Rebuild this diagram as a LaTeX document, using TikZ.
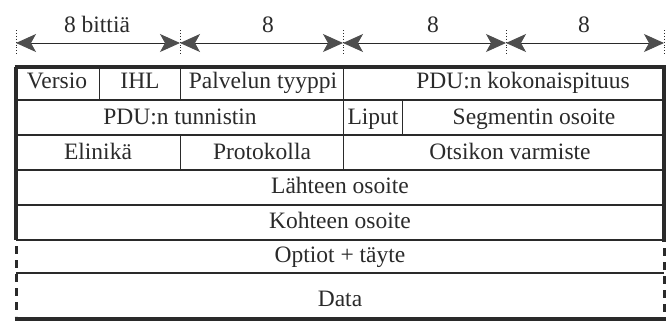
\documentclass[tikz,border=0pt]{standalone}
\usepackage{fontspec}
\setmainfont{Liberation Serif}
\usetikzlibrary{arrows.meta}
\definecolor{ink}{HTML}{2A2A2A}
\definecolor{tipgray}{HTML}{4E4E4E}
\begin{document}
\begin{tikzpicture}[x=1pt,y=-1pt,
  lbl/.style={font=\fontsize{23.5}{28}\selectfont, text=ink, inner sep=0pt, anchor=base},
  frame/.style={draw=ink, line width=3.4pt},
  rowline/.style={draw=ink, line width=1.6pt},
  colline/.style={draw=ink, line width=0.8pt},
  sidedash/.style={draw=ink, line width=3pt, dash pattern=on 8pt off 6pt},
  tick/.style={draw=ink, line width=0.9pt, dotted},
  span/.style={draw=ink, line width=1pt,
    {Stealth[length=20pt,width=18pt,inset=5pt,color=tipgray,fill=tipgray]}-{Stealth[length=20pt,width=18pt,inset=5pt,color=tipgray,fill=tipgray]}}]
\useasboundingbox (0,0) rectangle (671,325);
% bit ticks
\foreach \n/\x in {0/16,1/180,2/343,3/506,4/664}{
  \coordinate (t\n) at (\x,43);
  \draw[tick] (\x,30) -- (\x,56);
}
\draw[span] (t0) -- (t1);
\draw[span] (t1) -- (t2);
\draw[span] (t2) -- (t3);
\draw[span] (t3) -- (t4);
\node[lbl] (b1) at (97,32) {8 bittiä};
\node[lbl] (b2) at (268,32) {8};
\node[lbl] (b3) at (433,32) {8};
\node[lbl] (b4) at (584,32) {8};
% table frame
\draw[frame] (14.5,67) -- (665.5,67);
\draw[frame] (14.5,319) -- (665.5,319);
\draw[frame] (16,67) -- (16,240);
\draw[frame] (664,67) -- (664,242);
\draw[sidedash] (16,246) -- (16,316);
\draw[sidedash] (664,248) -- (664,316);
% row lines
\foreach \y in {100,135,170,205,240,273}{
  \draw[rowline] (16,\y) -- (664,\y);
}
% column lines
\draw[colline] (99,67) -- (99,100);
\draw[colline] (180,67) -- (180,100);
\draw[colline] (343,67) -- (343,100);
\draw[colline] (343,100) -- (343,135);
\draw[colline] (402,100) -- (402,135);
\draw[colline] (180,135) -- (180,170);
\draw[colline] (343,135) -- (343,170);
% field texts
\node[lbl] (versio) at (57,88) {Versio};
\node[lbl] (ihl) at (140,88) {IHL};
\node[lbl] (palv) at (263,88) {Palvelun tyyppi};
\node[lbl] (koko) at (523,88) {PDU:n kokonaispituus};
\node[lbl] (tunn) at (180,124) {PDU:n tunnistin};
\node[lbl] (liput) at (373,124) {Liput};
\node[lbl] (segm) at (534,124) {Segmentin osoite};
\node[lbl] (elin) at (98,159) {Elinikä};
\node[lbl] (prot) at (262,159) {Protokolla};
\node[lbl] (otsi) at (510,159) {Otsikon varmiste};
\node[lbl] (lahde) at (340,193) {Lähteen osoite};
\node[lbl] (kohde) at (340,228) {Kohteen osoite};
\node[lbl] (opt) at (340,262) {Optiot + täyte};
\node[lbl] (data) at (340,306) {Data};
\end{tikzpicture}
\end{document}
